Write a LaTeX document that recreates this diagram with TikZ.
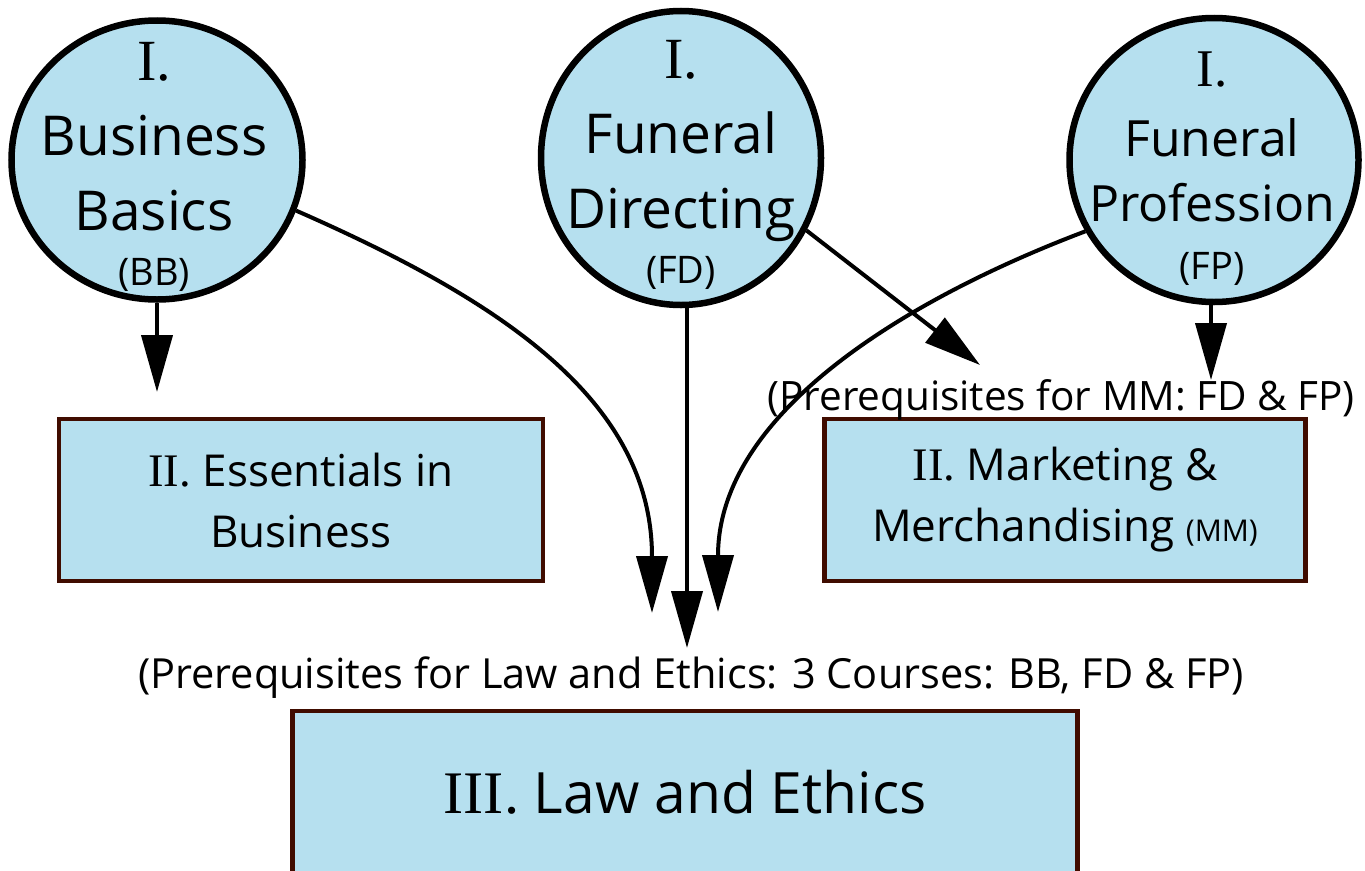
\documentclass[tikz,border=0pt]{standalone}
\usepackage{fontspec}
\setmainfont{Open Sans}
\newfontfamily\romanfont[Scale=1.06]{Liberation Serif}
\usetikzlibrary{shapes.geometric, arrows.meta}
\definecolor{courseblue}{RGB}{182,224,239}
\definecolor{boxbrown}{RGB}{64,12,0}
\tikzset{
  course/.style={ellipse, draw=black, line width=6.5pt, fill=courseblue, inner sep=0pt},
  coursetext/.style={align=center, inner sep=0pt, anchor=north, font=\fontsize{55}{75}\selectfont},
  stage/.style={rectangle, draw=boxbrown, line width=4.5pt, fill=courseblue, align=center, inner sep=0pt},
  prereq/.style={font=\fontsize{40.5}{46}\selectfont, inner sep=0pt, anchor=base},
  arr/.style={line width=4pt, -{Triangle[length=57pt, width=31pt]}},
}

\begin{document}
\begin{tikzpicture}[x=1pt, y=-1pt]
    \useasboundingbox (0,0) rectangle (1365,870);
    % first courses
    \node[course, minimum width=291pt, minimum height=279pt] (BB) at (157,160) {};
    \node[course, minimum width=280pt, minimum height=294pt] (FD) at (681,158) {};
    \node[course, minimum width=289pt, minimum height=284pt] (FP) at (1214,160) {};
    \node[coursetext] (BBtext) at (154,42) {{\romanfont I.}\\Business\\Basics\\[-20pt]{\fontsize{38}{40}\selectfont(BB)}};
    \node[coursetext] (FDtext) at (681,40) {{\romanfont I.}\\Funeral\\Directing\\[-20pt]{\fontsize{38}{40}\selectfont(FD)}};
    \node[coursetext, font=\fontsize{50}{70}\selectfont] (FPtext) at (1212,52) {{\romanfont I.}\\Funeral\\[-5pt]Profession\\[-12pt]{\fontsize{38}{40}\selectfont(FP)}};
    % second courses
    \node[stage, minimum width=484pt, minimum height=162pt, font=\fontsize{44}{61}\selectfont] (EB) at (301,500) {{\romanfont II.} Essentials in\\Business};
    \node[stage, minimum width=481pt, minimum height=162pt, font=\fontsize{44}{61}\selectfont] (MM) at (1065,500) {{\romanfont II.} Marketing \&\\Merchandising {\fontsize{30}{30}\selectfont(MM)}};
    \node[prereq] (MMpre) at (1061,410) {(Prerequisites for MM: FD \& FP)};
    % third course
    \node[prereq, font=\fontsize{41.5}{46}\selectfont] (LEpre) at (691,688) {(Prerequisites for Law and Ethics: 3 Courses: BB, FD \& FP)};
    \node[stage, minimum width=785pt, minimum height=162pt, font=\fontsize{57}{60}\selectfont] (LE) at (685,792) {{\romanfont III.} Law and Ethics};
    % arrow tips
    \coordinate (BBtip) at (157,392);
    \coordinate (MMtip) at (980,365);
    \coordinate (FPtip) at (1211,380);
    \coordinate (LEtipA) at (652,613);
    \coordinate (LEtipB) at (687,648);
    \coordinate (LEtipC) at (718,612);
    \draw[arr] (BB.south) -- (BBtip);
    \draw[arr] (BB.-20) .. controls (500,300) and (652,400) .. (LEtipA);
    \draw[arr] (LEtipB |- FD.south) -- (LEtipB);
    \draw[arr] (FD.-30) -- (MMtip);
    \draw[arr] (FP.209) .. controls (909,298) and (718,412) .. (LEtipC);
    \draw[arr] (FPtip |- FP.south) -- (FPtip);
\end{tikzpicture}
\end{document}
